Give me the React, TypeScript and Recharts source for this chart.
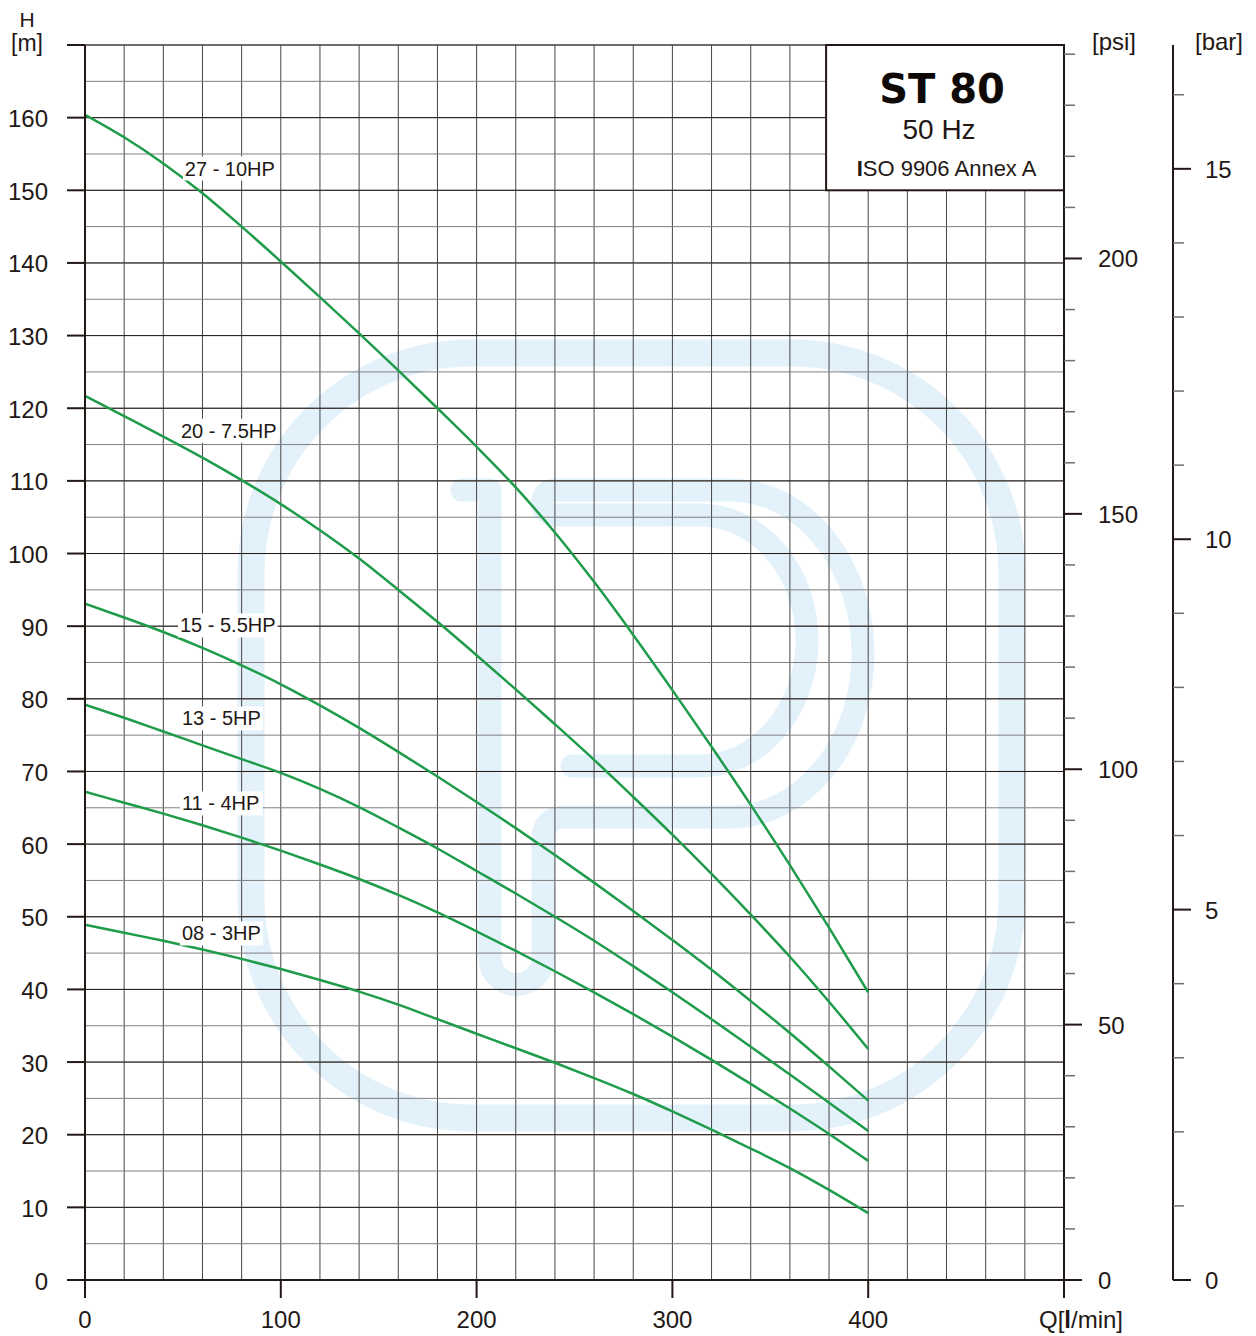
import React from 'react';
import {
  LineChart,
  Line,
  XAxis,
  YAxis,
  CartesianGrid,
  ReferenceArea,
  ReferenceDot,
} from 'recharts';

// ---------- data ----------
const flow = [0, 20, 40, 60, 80, 100, 120, 140, 160, 180, 200, 220, 240, 260, 280, 300, 320, 340, 360, 380, 400];

const h27 = [160.4, 157.3, 153.7, 149.6, 145.0, 140.2, 135.3, 130.3, 125.2, 120.0, 114.7, 109.1, 102.9, 96.1, 88.8, 81.2, 73.4, 65.4, 57.1, 48.5, 39.6];
const h20 = [121.7, 118.9, 116.1, 113.2, 110.1, 106.8, 103.2, 99.3, 95.0, 90.6, 86.0, 81.3, 76.5, 71.6, 66.5, 61.3, 55.9, 50.3, 44.5, 38.3, 31.8];
const h15 = [93.1, 91.2, 89.2, 87.0, 84.6, 82.0, 79.1, 76.0, 72.7, 69.3, 65.8, 62.2, 58.5, 54.7, 50.8, 46.8, 42.7, 38.4, 34.0, 29.4, 24.7];
const h13 = [79.2, 77.4, 75.5, 73.6, 71.7, 69.8, 67.6, 65.1, 62.3, 59.4, 56.3, 53.2, 50.0, 46.7, 43.2, 39.6, 35.9, 32.1, 28.3, 24.4, 20.5];
const h11 = [67.2, 65.7, 64.2, 62.6, 60.9, 59.1, 57.2, 55.2, 53.0, 50.6, 48.0, 45.3, 42.5, 39.6, 36.6, 33.5, 30.3, 27.0, 23.6, 20.1, 16.4];
const h08 = [48.9, 47.8, 46.7, 45.5, 44.2, 42.8, 41.3, 39.7, 37.9, 35.9, 33.9, 31.9, 29.9, 27.8, 25.6, 23.2, 20.7, 18.1, 15.4, 12.4, 9.2];

const seriesKeys = ['h27', 'h20', 'h15', 'h13', 'h11', 'h08'];
const seriesValues = [h27, h20, h15, h13, h11, h08];

const curveLabels = ['27 - 10HP', '20 - 7.5HP', '15 - 5.5HP', '13 - 5HP', '11 - 4HP', '08 - 3HP'];
const labelQ = [51, 49, 48.5, 49.5, 49.5, 49.5];
const labelH = [153.0, 116.9, 90.1, 77.3, 65.6, 47.7];

const xTicks = [0, 20, 40, 60, 80, 100, 120, 140, 160, 180, 200, 220, 240, 260, 280, 300, 320, 340, 360, 380, 400, 420, 440, 460, 480, 500];
const hTicks = [0, 5, 10, 15, 20, 25, 30, 35, 40, 45, 50, 55, 60, 65, 70, 75, 80, 85, 90, 95, 100, 105, 110, 115, 120, 125, 130, 135, 140, 145, 150, 155, 160, 165, 170];
const hMajor = [10, 20, 30, 40, 50, 60, 70, 80, 90, 100, 110, 120, 130, 140, 150, 160, 170];
const psiTicks = [0, 10, 20, 30, 40, 50, 60, 70, 80, 90, 100, 110, 120, 130, 140, 150, 160, 170, 180, 190, 200, 210, 220, 230, 240];
const barTicks = [0, 1, 2, 3, 4, 5, 6, 7, 8, 9, 10, 11, 12, 13, 14, 15, 16];

const H_MAX = 170;
const PSI_PER_M = 1.42233;
const M_PER_BAR = 10.197;

const titleBox = { q1: 378.5, q2: 500, h1: 150, h2: 170 };

const data = flow.map((q, i) => {
  const row: any = { q };
  seriesKeys.forEach((k, j) => {
    row[k] = seriesValues[j][i];
  });
  return row;
});

// ---------- styles ----------
const INK = '#231815';
const GREEN = '#1f9c4a';
const FONT = '"Liberation Sans", Arial, Helvetica, sans-serif';
const WATER = '#e3f1fb';

const charW: Record<string, number> = { ' ': 0.278, '-': 0.333, '.': 0.278, H: 0.722, P: 0.667 };
const textWidth = (s: string, size: number) =>
  s.split('').reduce((a, c) => a + (charW[c] !== undefined ? charW[c] : 0.556), 0) * size;

// ---------- tick renderers ----------
const XTick = (props: any) => {
  const { x, y, payload } = props;
  const v = payload.value;
  if (v % 100 !== 0) return <g />;
  return (
    <g>
      <line x1={x} x2={x} y1={y} y2={y + 18} stroke={INK} strokeWidth={2} />
      {v < 500 ? (
        <text x={x} y={y + 48} textAnchor="middle" fontSize={24} fill={INK} fontFamily={FONT}>
          {v}
        </text>
      ) : (
        <text x={x + 17} y={y + 48} textAnchor="middle" fontSize={24} fill={INK} fontFamily={FONT}>
          Q[<tspan fontWeight="bold">l</tspan>/min]
        </text>
      )}
    </g>
  );
};

const HTick = (props: any) => {
  const { x, y, payload } = props;
  const v = payload.value;
  if (v % 10 !== 0) return <g />;
  return (
    <g>
      <line x1={x - 18} x2={x} y1={y} y2={y} stroke={INK} strokeWidth={2} />
      {v <= 160 && (
        <text x={x - 37} y={y + 9.5} textAnchor="end" fontSize={24} fill={INK} fontFamily={FONT}>
          {v}
        </text>
      )}
      {v === 170 && (
        <g>
          <text x={x - 58} y={y - 18} textAnchor="middle" fontSize={21} fill={INK} fontFamily={FONT}>
            H
          </text>
          <text x={x - 58} y={y + 6} textAnchor="middle" fontSize={23} fill={INK} fontFamily={FONT}>
            [m]
          </text>
        </g>
      )}
    </g>
  );
};

const PsiTick = (props: any) => {
  const { x, y, payload } = props;
  const v = payload.value;
  const major = v % 50 === 0;
  return (
    <g>
      <line x1={x} x2={x + (major ? 18 : 11)} y1={y} y2={y} stroke={major ? INK : '#6f6f6f'} strokeWidth={major ? 2 : 1.5} />
      {major && (
        <text x={x + 34} y={y + 9} textAnchor="start" fontSize={24} fill={INK} fontFamily={FONT}>
          {v}
        </text>
      )}
      {v === 240 && (
        <text x={x + 28} y={y - 4} textAnchor="start" fontSize={24} fill={INK} fontFamily={FONT}>
          [psi]
        </text>
      )}
    </g>
  );
};

const BarTick = (props: any) => {
  const { x, y, payload } = props;
  const v = payload.value;
  const major = v % 5 === 0;
  return (
    <g>
      <line x1={x} x2={x + (major ? 18 : 11)} y1={y} y2={y} stroke={major ? INK : '#6f6f6f'} strokeWidth={major ? 2 : 1.5} />
      {major && (
        <text x={x + 32} y={y + 9} textAnchor="start" fontSize={24} fill={INK} fontFamily={FONT}>
          {v}
        </text>
      )}
      {v === 16 && (
        <text x={x + 22} y={y - 45} textAnchor="start" fontSize={24} fill={INK} fontFamily={FONT}>
          [bar]
        </text>
      )}
    </g>
  );
};

const CurveLabel = (props: any) => {
  const { cx, cy, text } = props;
  const w = textWidth(text, 20);
  return (
    <g>
      <rect x={cx - 2} y={cy - 12} width={w + 4} height={24} fill="#ffffff" />
      <text x={cx} y={cy + 7} fontSize={20} fill={INK} fontFamily={FONT}>
        {text}
      </text>
    </g>
  );
};

const TitleBox = (props: any) => {
  const { x, y, width, height } = props;
  const cx = x + width / 2;
  return (
    <g>
      <rect x={x} y={y} width={width} height={height} fill="#ffffff" stroke={INK} strokeWidth={2} />
      <text x={cx - 3} y={y + 58} textAnchor="middle" fontSize={40} fontWeight="bold" fill="#0f0a08" fontFamily='"DejaVu Sans", sans-serif'>
        ST 80
      </text>
      <text x={cx - 6} y={y + 94} textAnchor="middle" fontSize={28} fill={INK} fontFamily={FONT}>
        50 Hz
      </text>
      <text x={cx + 1.5} y={y + 131} textAnchor="middle" fontSize={22} fill={INK} fontFamily={FONT}>
        <tspan fontWeight="bold">I</tspan>SO 9906 Annex A
      </text>
    </g>
  );
};

const Watermark = () => (
  <svg width={1240} height={1336} style={{ position: 'absolute', left: 0, top: 0 }}>
    <rect x={243} y={353} width={761} height={765} rx={220} ry={220} fill="none" stroke={WATER} strokeWidth={27} />
    <path
      d="M 454 490 L 482 490 L 482 958 A 26.5 26.5 0 0 0 535 958 L 535 840 Q 535 817 558 817 L 722 817 A 133 163.5 0 0 0 722 490 L 547 490 A 12.5 12.5 0 0 0 547 515 L 692 515 A 107 125.5 0 0 1 692 766 L 564 766"
      fill="none"
      stroke={WATER}
      strokeWidth={23}
      strokeLinecap="round"
      strokeLinejoin="round"
    />
  </svg>
);

export default function App() {
  return (
    <div style={{ position: 'relative', marginTop: -8, width: 1240, height: 1336 }}>
      <Watermark />
      <div style={{ position: 'absolute', left: 0, top: 0 }}>
        <LineChart width={1240} height={1336} data={data} margin={{ top: 45, right: 0, bottom: 8, left: 0 }}>
          <CartesianGrid yAxisId="m" horizontal={false} stroke="#454545" strokeWidth={1} />
          <CartesianGrid yAxisId="m" vertical={false} stroke="#808080" strokeWidth={1} />
          <CartesianGrid yAxisId="m" vertical={false} horizontalValues={hMajor} stroke={INK} strokeWidth={1} />
          <XAxis
            dataKey="q"
            type="number"
            domain={[0, 500]}
            ticks={xTicks}
            interval={0}
            tickLine={false}
            tickSize={0}
            tickMargin={0}
            height={48}
            axisLine={{ stroke: INK, strokeWidth: 2 }}
            tick={(p: any) => <XTick {...p} />}
            allowDataOverflow
          />
          <YAxis
            yAxisId="m"
            orientation="left"
            type="number"
            width={77}
            domain={[0, H_MAX]}
            ticks={hTicks}
            interval={0}
            tickLine={false}
            tickSize={0}
            tickMargin={0}
            axisLine={{ stroke: INK, strokeWidth: 2 }}
            tick={(p: any) => <HTick {...p} />}
            allowDataOverflow
          />
          <YAxis
            yAxisId="b_bar"
            orientation="right"
            type="number"
            width={75}
            domain={[0, H_MAX / M_PER_BAR]}
            ticks={barTicks}
            interval={0}
            tickLine={false}
            tickSize={0}
            tickMargin={0}
            axisLine={{ stroke: INK, strokeWidth: 2 }}
            tick={(p: any) => <BarTick {...p} />}
            allowDataOverflow
          />
          <YAxis
            yAxisId="a_psi"
            orientation="right"
            type="number"
            width={109}
            domain={[0, H_MAX * PSI_PER_M]}
            ticks={psiTicks}
            interval={0}
            tickLine={false}
            tickSize={0}
            tickMargin={0}
            axisLine={{ stroke: INK, strokeWidth: 2 }}
            tick={(p: any) => <PsiTick {...p} />}
            allowDataOverflow
          />
          <ReferenceArea
            yAxisId="m"
            x1={titleBox.q1}
            x2={titleBox.q2}
            y1={titleBox.h1}
            y2={titleBox.h2}
            shape={(p: any) => <TitleBox {...p} />}
          />
          {curveLabels.map((t, i) => (
            <ReferenceDot
              key={'lab' + i}
              yAxisId="m"
              x={labelQ[i]}
              y={labelH[i]}
              r={0}
              shape={(p: any) => <CurveLabel {...p} text={t} />}
            />
          ))}
          {seriesKeys.map((k) => (
            <Line
              key={k}
              yAxisId="m"
              dataKey={k}
              type="monotone"
              stroke={GREEN}
              strokeWidth={2.5}
              dot={false}
              activeDot={false}
              isAnimationActive={false}
            />
          ))}
        </LineChart>
      </div>
    </div>
  );
}
